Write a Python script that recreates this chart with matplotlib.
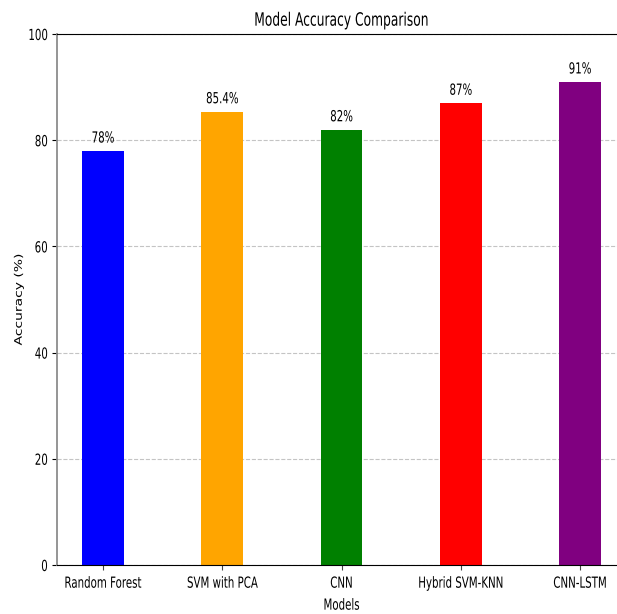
import matplotlib
matplotlib.use("Agg")
import matplotlib.pyplot as plt
from matplotlib.patheffects import AbstractPathEffect
from matplotlib.transforms import Affine2D

models = ["Random Forest", "SVM with PCA", "CNN", "Hybrid SVM-KNN", "CNN-LSTM"]
accuracy = [78, 85.4, 82, 87, 91]
value_labels = ["78%", "85.4%", "82%", "87%", "91%"]
bar_colors = ["blue", "orange", "green", "red", "purple"]
y_ticks = [0, 20, 40, 60, 80, 100]

NARROW = 0.67  # horizontal glyph compression


class SquishX(AbstractPathEffect):
    """Compress glyphs horizontally about a fixed edge or the centre of the text."""

    def __init__(self, factor, anchor="center"):
        super().__init__()
        self.factor = factor
        self.anchor = anchor

    def draw_path(self, renderer, gc, tpath, affine, rgbFace=None):
        ext = tpath.get_extents(affine)
        if self.anchor == "right":
            x0 = ext.x1
        elif self.anchor == "left":
            x0 = ext.x0
        else:
            x0 = 0.5 * (ext.x0 + ext.x1)
        t = affine + Affine2D().translate(-x0, 0).scale(self.factor, 1).translate(x0, 0)
        renderer.draw_path(gc, tpath, t, rgbFace)


narrow_c = [SquishX(NARROW, "center")]
narrow_r = [SquishX(NARROW, "right")]
ylab_fx = [SquishX(0.75, "right")]

fig = plt.figure(figsize=(6.17, 6.14), dpi=100)
ax = fig.add_axes([57 / 617, (614 - 565) / 614, 569 / 617, (565 - 34) / 614])

x = list(range(len(models)))
ax.bar(x, accuracy, width=0.35, color=bar_colors, zorder=2)
ax.set_xlim(-0.385, 4.385)
ax.set_ylim(0, 100)
ax.set_yticks(y_ticks)
ax.set_xticks(x)
ax.set_xticklabels(models, fontsize=11)
ax.set_yticklabels([str(t) for t in y_ticks], fontsize=11)
for lab in ax.get_xticklabels():
    lab.set_path_effects(narrow_c)
for lab in ax.get_yticklabels():
    lab.set_path_effects(narrow_r)
ax.tick_params(axis="x", color="#444444", pad=4.2)
ax.tick_params(axis="y", pad=3.0)

ax.grid(axis="y", linestyle="--", color="#c4c4c4", linewidth=0.8, zorder=0)
ax.spines["left"].set_color("#8c8c8c")
ax.spines["left"].set_linewidth(1.3)

for xi, v, lab in zip(x, accuracy, value_labels):
    ax.text(xi, v + 1.0, lab, ha="center", va="bottom", fontsize=11,
            path_effects=narrow_c)

ax.set_title("Model Accuracy Comparison", fontsize=13.2, pad=6, path_effects=narrow_c)
ax.set_xlabel("Models", fontsize=11, labelpad=5, path_effects=narrow_c)
ax.set_ylabel("Accuracy (%)", fontsize=10, path_effects=ylab_fx)
ax.yaxis.set_label_coords((24 - 57) / 569, 0.5)

fig.savefig("out.png", dpi=100)
